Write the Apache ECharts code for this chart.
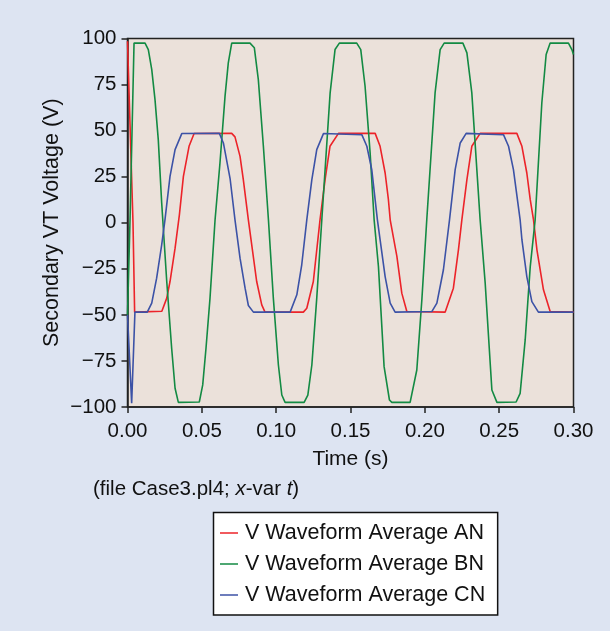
<!DOCTYPE html>
<html>
<head>
<meta charset="utf-8">
<script src="https://cdn.jsdelivr.net/npm/echarts@6/dist/echarts.min.js"></script>
<style>
html,body{margin:0;padding:0;background:#dde4f2;}
#chart{width:610px;height:631px;}
</style>
</head>
<body>
<div id="chart"></div>
<script>
// Tick labels
const xTicks = [0, 0.05, 0.10, 0.15, 0.20, 0.25, 0.30];
const yTicks = [100, 75, 50, 25, 0, -25, -50, -75, -100];
const seriesNames = ['V Waveform Average AN', 'V Waveform Average BN', 'V Waveform Average CN'];

// [time (s), voltage (V)]
const redAN = [
  [0.0000, 98.5], [0.0037, 0], [0.0048, -48.5], [0.0231, -48.0], [0.0264, -40.9],
  [0.0286, -31.9], [0.0320, -13.8], [0.0349, 4.3], [0.0376, 25.2], [0.0414, 41.5],
  [0.0448, 48.4], [0.0701, 48.5], [0.0723, 46.6], [0.0757, 36.0], [0.0779, 23.4],
  [0.0813, 1.6], [0.0869, -31.9], [0.0903, -44.6], [0.0925, -48.5], [0.1183, -48.5],
  [0.1206, -46.4], [0.1250, -31.9], [0.1295, 1.6], [0.1329, 23.4], [0.1362, 41.5],
  [0.1419, 48.5], [0.1666, 48.5], [0.1699, 41.5], [0.1733, 27.0], [0.1755, 12.5],
  [0.1767, 1.6], [0.1812, -18.3], [0.1845, -38.2], [0.1879, -48.2], [0.2137, -48.5],
  [0.2192, -35.5], [0.2226, -14.7], [0.2249, 1.6], [0.2283, 23.4], [0.2316, 41.5],
  [0.2372, 48.5], [0.2619, 48.5], [0.2653, 41.5], [0.2686, 27.0], [0.2709, 12.5],
  [0.2731, 1.6], [0.2754, -14.7], [0.2798, -36.4], [0.2843, -48.2], [0.3000, -48.5]
];
const greenBN = [
  [0.0000, -50], [0.0017, 1.6], [0.0044, 97.5], [0.0118, 97.5], [0.0140, 94],
  [0.0163, 83.2], [0.0185, 66.8], [0.0207, 45.1], [0.0230, 10.7], [0.0264, -31.9],
  [0.0297, -68.1], [0.0320, -89.8], [0.0342, -97.5], [0.0483, -97.3], [0.0506, -88],
  [0.0528, -68.1], [0.0555, -40.9], [0.0589, 1.6], [0.0622, 32.4], [0.0656, 68.6],
  [0.0678, 86.8], [0.0701, 97.5], [0.0824, 97.5], [0.0853, 95], [0.0880, 77.7],
  [0.0914, 41.5], [0.0948, 1.6], [0.0981, -40.9], [0.1015, -77.2], [0.1038, -93.5],
  [0.1060, -97.5], [0.1188, -97.5], [0.1213, -93.5], [0.1240, -77.2], [0.1273, -40.9],
  [0.1307, 1.6], [0.1363, 70.5], [0.1396, 94], [0.1425, 97.5], [0.1542, 97.5],
  [0.1569, 94], [0.1598, 74.1], [0.1632, 37.9], [0.1659, 1.6], [0.1688, -23.8],
  [0.1726, -78.1], [0.1762, -96.2], [0.1778, -97.5], [0.1901, -97.5], [0.1946, -79.9],
  [0.1980, -41.8], [0.2013, 1.6], [0.2069, 70.5], [0.2103, 94], [0.2130, 97.5],
  [0.2256, 97.5], [0.2283, 92.2], [0.2316, 70.5], [0.2372, 1.6], [0.2406, -32.8],
  [0.2451, -90.8], [0.2485, -97.5], [0.2614, -97.3], [0.2641, -92.6], [0.2675, -63.6],
  [0.2709, -23.8], [0.2742, 1.6], [0.2787, 65.1], [0.2816, 91.3], [0.2843, 97.5],
  [0.2966, 97.5], [0.2989, 94], [0.3000, 91.3]
];
const blueCN = [
  [0.0000, -50], [0.0028, -98], [0.0050, -48.5], [0.0133, -48.5], [0.0163, -43.6],
  [0.0196, -30.1], [0.0230, -12.0], [0.0252, 1.6], [0.0286, 25.2], [0.0320, 39.7],
  [0.0365, 48.4], [0.0618, 48.5], [0.0645, 43.3], [0.0690, 24.0], [0.0723, 1.6],
  [0.0757, -19.2], [0.0791, -35.5], [0.0813, -44.9], [0.0847, -48.5], [0.1094, -48.5],
  [0.1139, -39.1], [0.1172, -22.8], [0.1206, 1.6], [0.1240, 23.4], [0.1273, 39.7],
  [0.1318, 48.4], [0.1576, 47.8], [0.1610, 41.5], [0.1643, 28.8], [0.1681, 1.6],
  [0.1699, -9.2], [0.1733, -29.2], [0.1767, -43.6], [0.1800, -48.5], [0.2047, -48.2],
  [0.2081, -43.6], [0.2125, -25.5], [0.2166, 1.6], [0.2204, 28.8], [0.2238, 43.3],
  [0.2278, 48.5], [0.2529, 47.8], [0.2563, 41.5], [0.2596, 28.8], [0.2641, 1.6],
  [0.2653, -9.2], [0.2686, -29.2], [0.2720, -42.8], [0.2764, -48.5], [0.3000, -48.5]
];

const FONT = '"Liberation Sans", Arial, sans-serif';
const chart = echarts.init(document.getElementById('chart'), null, {renderer: 'canvas'});
const lineSeries = (name, data, color) => ({
  name, type: 'line', data, showSymbol: false, symbol: 'none', smooth: false,
  lineStyle: {color, width: 1.6}, itemStyle: {color}, z: 2
});
chart.setOption({
  backgroundColor: '#dde4f2',
  animation: false,
  textStyle: {fontFamily: FONT},
  grid: {
    left: 127.5, right: 36.5, top: 38.5, bottom: 224,
    show: true, backgroundColor: '#ebe1da', borderColor: '#222', borderWidth: 1.5
  },
  xAxis: {
    type: 'value', min: xTicks[0], max: xTicks[xTicks.length - 1], interval: 0.05,
    name: 'Time (s)', nameLocation: 'middle', nameGap: 42, nameMoveOverlap: false,
    nameTextStyle: {fontSize: 21, color: '#111', fontFamily: FONT},
    axisLine: {onZero: false, lineStyle: {color: '#222', width: 1.5}},
    axisTick: {show: true, inside: false, length: 6, lineStyle: {color: '#222', width: 1.5}},
    axisLabel: {fontSize: 20.5, color: '#111', margin: 14, fontFamily: FONT,
      formatter: v => v.toFixed(2)},
    splitLine: {show: false}
  },
  yAxis: {
    type: 'value', min: yTicks[yTicks.length - 1], max: yTicks[0], interval: 25,
    name: 'Secondary VT Voltage (V)', nameLocation: 'middle', nameGap: 64, nameRotate: 90,
    nameMoveOverlap: false,
    nameTextStyle: {fontSize: 21.5, color: '#111', fontFamily: FONT},
    axisLine: {show: true, onZero: false, lineStyle: {color: '#222', width: 1.5}},
    axisTick: {show: true, inside: false, length: 6, lineStyle: {color: '#222', width: 1.5}},
    axisLabel: {fontSize: 20.5, color: '#111', margin: 11, fontFamily: FONT,
      formatter: v => String(v).replace('-', '\u2212')},
    splitLine: {show: false}
  },
  legend: {
    orient: 'vertical', left: 213.5, top: 512.5,
    data: seriesNames,
    icon: 'rect', itemWidth: 18, itemHeight: 1.5, itemGap: 9,
    padding: [9.5, 12.5, 9, 6.5],
    backgroundColor: '#ffffff', borderColor: '#111', borderWidth: 1.5, borderRadius: 0,
    textStyle: {fontSize: 21.5, color: '#111', fontFamily: FONT, padding: [0, 0, 0, 2], lineHeight: 21}
  },
  graphic: [{
    type: 'text', left: 93, top: 479,
    style: {
      text: '(file Case3.pl4; {i|x}-var {i|t})',
      font: '20.5px ' + FONT, fill: '#111',
      rich: {i: {fontStyle: 'italic', fontSize: 20.5, fontFamily: FONT, fill: '#111'}}
    }
  }],
  series: [
    lineSeries(seriesNames[0], redAN, '#ec2329'),
    lineSeries(seriesNames[1], greenBN, '#138a43'),
    lineSeries(seriesNames[2], blueCN, '#3c52a6')
  ]
});
</script>
</body>
</html>
